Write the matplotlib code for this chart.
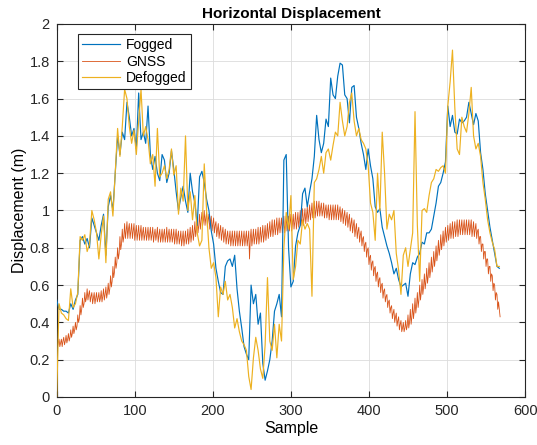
import numpy as np
import matplotlib
matplotlib.use("Agg")
import matplotlib.pyplot as plt
from matplotlib.ticker import FuncFormatter

# Horizontal displacement per sample (m); Fogged/Defogged logged every 3rd sample
fogged = [
    0.52, 0.47, 0.47, 0.46, 0.46, 0.45, 0.50, 0.47, 0.52, 0.55,
    0.84, 0.86, 0.82, 0.85, 0.80, 0.96, 0.92, 0.88, 0.84, 0.92,
    0.98, 0.76, 1.02, 1.08, 1.00, 1.20, 1.40, 1.30, 1.42, 1.38,
    1.58, 1.50, 1.40, 1.44, 1.33, 1.63, 1.38, 1.42, 1.36, 1.56,
    1.30, 1.22, 1.29, 1.20, 1.16, 1.30, 1.27, 1.15, 1.20, 1.32,
    1.22, 1.10, 1.00, 1.07, 1.13, 1.05, 0.99, 1.20, 1.10, 1.04,
    0.92, 1.18, 1.21, 1.15, 1.06, 1.00, 0.89, 0.82, 0.69, 0.62,
    0.56, 0.55, 0.70, 0.73, 0.74, 0.70, 0.76, 0.58, 0.46, 0.37,
    0.27, 0.23, 0.20, 0.60, 0.50, 0.55, 0.39, 0.45, 0.18, 0.09,
    0.14, 0.20, 0.30, 0.46, 0.50, 0.55, 0.43, 1.27, 1.30, 0.80,
    0.59, 0.62, 0.81, 0.88, 0.92, 1.09, 1.12, 1.02, 1.10, 1.17,
    1.29, 1.51, 1.38, 1.31, 1.36, 1.49, 1.45, 1.71, 1.62, 1.60,
    1.72, 1.79, 1.78, 1.62, 1.60, 1.47, 1.66, 1.67, 1.50, 1.44,
    1.36, 1.30, 1.22, 1.33, 1.24, 1.17, 1.02, 0.99, 1.01, 0.91,
    0.86, 0.81, 0.77, 0.72, 0.66, 0.69, 0.63, 0.59, 0.60, 0.61,
    0.54, 0.66, 0.72, 0.71, 0.75, 0.77, 0.83, 0.82, 0.88, 0.88,
    0.90, 0.97, 1.04, 1.13, 1.15, 1.20, 1.26, 1.56, 1.45, 1.51,
    1.42, 1.41, 1.49, 1.47, 1.48, 1.50, 1.58, 1.52, 1.46, 1.52,
    1.48, 1.31, 1.22, 1.09, 1.00, 0.91, 0.84, 0.77, 0.70, 0.69,
]

defogged = [
    0.00, 0.50, 0.45, 0.44, 0.42, 0.41, 0.58, 0.48, 0.50, 0.56,
    0.86, 0.84, 0.87, 0.78, 0.82, 1.00, 0.95, 0.88, 0.74, 0.87,
    0.97, 0.72, 1.06, 1.10, 0.97, 1.20, 1.44, 1.29, 1.45, 1.65,
    1.60, 1.45, 1.36, 1.43, 1.30, 1.48, 1.65, 1.40, 1.45, 1.38,
    1.25, 1.30, 1.13, 1.44, 1.18, 1.20, 1.24, 1.17, 1.22, 1.33,
    1.19, 1.24, 0.98, 1.12, 1.05, 1.40, 1.00, 1.10, 0.95, 1.08,
    0.88, 0.81, 0.84, 1.25, 1.00, 0.80, 0.69, 0.72, 0.64, 0.43,
    0.59, 0.55, 0.62, 0.52, 0.55, 0.48, 0.37, 0.42, 0.35, 0.30,
    0.28, 0.25, 0.11, 0.04, 0.21, 0.32, 0.25, 0.15, 0.10, 0.28,
    0.64, 0.30, 0.25, 0.39, 0.21, 0.39, 0.30, 0.80, 0.99, 0.90,
    1.08, 0.63, 0.70, 0.84, 0.82, 0.95, 0.90, 0.93, 0.90, 0.54,
    1.15, 1.17, 1.22, 1.29, 1.20, 1.31, 1.33, 1.27, 1.35, 1.42,
    1.40, 1.58, 1.48, 1.40, 1.45, 1.58, 1.63, 1.48, 1.40, 1.44,
    1.38, 1.36, 1.33, 1.24, 1.04, 0.99, 0.84, 1.20, 1.00, 1.42,
    1.20, 0.90, 0.98, 0.95, 1.00, 0.77, 0.68, 0.55, 0.76, 0.80,
    0.70, 0.79, 0.88, 1.53, 0.92, 0.62, 1.00, 1.01, 0.99, 1.08,
    1.15, 1.17, 1.22, 1.21, 1.23, 1.24, 1.20, 1.56, 1.69, 1.86,
    1.55, 1.33, 1.30, 1.50, 1.45, 1.42, 1.52, 1.66, 1.40, 1.33,
    1.36, 1.29, 1.15, 1.06, 0.95, 0.88, 0.83, 0.79, 0.70, 0.70,
]

# GNSS reference, one value per sample
gnss = [
    0.31, 0.27, 0.29, 0.31, 0.27, 0.29, 0.31, 0.27, 0.30, 0.32, 0.28, 0.30, 0.33, 0.29, 0.31,
    0.34, 0.30, 0.32, 0.36, 0.32, 0.34, 0.38, 0.34, 0.36, 0.40, 0.36, 0.38, 0.44, 0.40, 0.42,
    0.49, 0.44, 0.47, 0.53, 0.48, 0.50, 0.56, 0.51, 0.53, 0.58, 0.52, 0.55, 0.57, 0.51, 0.54,
    0.56, 0.50, 0.53, 0.56, 0.50, 0.53, 0.56, 0.51, 0.53, 0.56, 0.51, 0.53, 0.57, 0.51, 0.54,
    0.58, 0.52, 0.55, 0.59, 0.53, 0.56, 0.61, 0.55, 0.58, 0.65, 0.59, 0.62, 0.70, 0.64, 0.67,
    0.75, 0.69, 0.72, 0.80, 0.74, 0.77, 0.86, 0.79, 0.82, 0.90, 0.83, 0.86, 0.93, 0.85, 0.89,
    0.94, 0.85, 0.90, 0.93, 0.85, 0.89, 0.93, 0.85, 0.89, 0.93, 0.84, 0.88, 0.92, 0.84, 0.88,
    0.92, 0.84, 0.88, 0.92, 0.84, 0.88, 0.91, 0.84, 0.87, 0.91, 0.84, 0.87, 0.91, 0.84, 0.87,
    0.91, 0.84, 0.87, 0.91, 0.83, 0.87, 0.90, 0.84, 0.87, 0.91, 0.83, 0.87, 0.90, 0.83, 0.86,
    0.90, 0.83, 0.87, 0.90, 0.83, 0.86, 0.91, 0.83, 0.87, 0.90, 0.83, 0.86, 0.90, 0.83, 0.86,
    0.90, 0.82, 0.86, 0.90, 0.82, 0.86, 0.89, 0.82, 0.85, 0.89, 0.81, 0.85, 0.89, 0.81, 0.85,
    0.89, 0.82, 0.85, 0.90, 0.82, 0.86, 0.91, 0.83, 0.87, 0.92, 0.84, 0.88, 0.94, 0.86, 0.90,
    0.96, 0.88, 0.92, 0.98, 0.90, 0.94, 0.99, 0.92, 0.95, 1.00, 0.92, 0.96, 0.99, 0.91, 0.95,
    0.98, 0.90, 0.94, 0.97, 0.89, 0.93, 0.96, 0.88, 0.92, 0.94, 0.86, 0.90, 0.93, 0.85, 0.89,
    0.92, 0.84, 0.88, 0.91, 0.83, 0.87, 0.90, 0.82, 0.86, 0.89, 0.82, 0.85, 0.89, 0.81, 0.85,
    0.89, 0.81, 0.85, 0.89, 0.81, 0.85, 0.89, 0.81, 0.85, 0.89, 0.81, 0.85, 0.89, 0.81, 0.85,
    0.89, 0.81, 0.85, 0.89, 0.81, 0.85, 0.89, 0.74, 0.85, 0.90, 0.81, 0.85, 0.90, 0.82, 0.86,
    0.90, 0.82, 0.86, 0.91, 0.82, 0.86, 0.91, 0.83, 0.87, 0.92, 0.83, 0.87, 0.92, 0.84, 0.88,
    0.93, 0.85, 0.89, 0.94, 0.86, 0.90, 0.95, 0.86, 0.90, 0.95, 0.87, 0.91, 0.96, 0.87, 0.91,
    0.96, 0.88, 0.92, 0.96, 0.88, 0.92, 0.97, 0.88, 0.92, 0.97, 0.89, 0.93, 0.97, 0.89, 0.93,
    0.98, 0.89, 0.93, 0.98, 0.90, 0.94, 0.99, 0.90, 0.94, 0.99, 0.91, 0.95, 1.00, 0.92, 0.96,
    1.01, 0.92, 0.96, 1.01, 0.93, 0.97, 1.02, 0.94, 0.98, 1.03, 0.95, 0.99, 1.04, 0.96, 1.00,
    1.05, 0.96, 1.00, 1.05, 0.97, 1.01, 1.05, 0.97, 1.01, 1.04, 0.97, 1.00, 1.04, 0.96, 1.00,
    1.03, 0.96, 0.99, 1.03, 0.95, 0.99, 1.03, 0.95, 0.99, 1.03, 0.95, 0.99, 1.03, 0.95, 0.99,
    1.03, 0.95, 0.99, 1.02, 0.94, 0.98, 1.01, 0.93, 0.97, 1.00, 0.92, 0.96, 0.99, 0.91, 0.95,
    0.98, 0.89, 0.93, 0.96, 0.88, 0.92, 0.95, 0.86, 0.90, 0.93, 0.85, 0.89, 0.91, 0.83, 0.87,
    0.89, 0.81, 0.85, 0.86, 0.78, 0.82, 0.83, 0.75, 0.79, 0.80, 0.71, 0.75, 0.76, 0.68, 0.72,
    0.73, 0.65, 0.69, 0.70, 0.62, 0.66, 0.67, 0.59, 0.63, 0.64, 0.56, 0.60, 0.61, 0.53, 0.57,
    0.58, 0.51, 0.54, 0.55, 0.48, 0.51, 0.52, 0.45, 0.48, 0.49, 0.42, 0.45, 0.47, 0.40, 0.43,
    0.45, 0.38, 0.41, 0.43, 0.36, 0.39, 0.41, 0.35, 0.37, 0.40, 0.35, 0.37, 0.41, 0.36, 0.38,
    0.44, 0.37, 0.40, 0.47, 0.39, 0.43, 0.50, 0.42, 0.46, 0.53, 0.45, 0.49, 0.56, 0.48, 0.52,
    0.60, 0.52, 0.56, 0.63, 0.55, 0.59, 0.66, 0.58, 0.62, 0.69, 0.61, 0.65, 0.72, 0.64, 0.68,
    0.75, 0.67, 0.71, 0.78, 0.70, 0.74, 0.81, 0.73, 0.77, 0.84, 0.76, 0.80, 0.87, 0.79, 0.83,
    0.89, 0.81, 0.85, 0.91, 0.83, 0.87, 0.92, 0.84, 0.88, 0.93, 0.85, 0.89, 0.94, 0.85, 0.90,
    0.94, 0.86, 0.90, 0.95, 0.86, 0.90, 0.95, 0.87, 0.91, 0.95, 0.87, 0.91, 0.95, 0.87, 0.91,
    0.95, 0.87, 0.91, 0.95, 0.87, 0.91, 0.95, 0.86, 0.90, 0.94, 0.86, 0.90, 0.93, 0.85, 0.89,
    0.90, 0.82, 0.86, 0.86, 0.78, 0.82, 0.82, 0.74, 0.78, 0.78, 0.70, 0.74, 0.74, 0.66, 0.70,
    0.70, 0.62, 0.66, 0.65, 0.57, 0.61, 0.60, 0.52, 0.56, 0.55, 0.47, 0.51, 0.47, 0.43,
]

title = "Horizontal Displacement"
x_label = "Sample"
y_label = "Displacement (m)"
series_names = ["Fogged", "GNSS", "Defogged"]
x_ticks = [0, 100, 200, 300, 400, 500, 600]
y_ticks = [0, 0.2, 0.4, 0.6, 0.8, 1.0, 1.2, 1.4, 1.6, 1.8, 2.0]

step = 3
x_fog = np.arange(len(fogged)) * step
x_def = np.arange(len(defogged)) * step
x_gnss = np.arange(len(gnss))

plt.rcParams["font.family"] = ["Liberation Sans", "DejaVu Sans"]

fig = plt.figure(figsize=(5.37, 4.45), dpi=100)
ax = fig.add_axes([0.1056, 0.1079, 0.8722, 0.8382])

ax.plot(x_fog, fogged, color="#0072BD", lw=0.85, label=series_names[0], zorder=3)
ax.plot(x_gnss, gnss, color="#D95319", lw=0.6, label=series_names[1], zorder=2)
ax.plot(x_def, defogged, color="#EDB120", lw=0.85, label=series_names[2], zorder=4)

ax.set_xlim(0, 600)
ax.set_ylim(0, 2)
ax.set_xticks(x_ticks)
ax.set_yticks(y_ticks)
ax.yaxis.set_major_formatter(FuncFormatter(lambda v, p: f"{v:g}"))

edge = "#262626"
for sp in ax.spines.values():
    sp.set_color(edge)
    sp.set_linewidth(0.8)
ax.tick_params(direction="in", length=4, width=0.8, colors=edge,
               labelsize=10.5, top=True, right=True, pad=5)
ax.grid(True, color="#dcdcdc", lw=0.6)
ax.set_axisbelow(True)

ax.set_title(title, fontsize=11, fontweight="bold", pad=4)
ax.set_xlabel(x_label, fontsize=11.5, labelpad=2)
ax.set_ylabel(y_label, fontsize=11.5, labelpad=2)

leg = ax.legend(loc="upper left", bbox_to_anchor=(0.0455, 0.973),
                borderaxespad=0, fontsize=10, handlelength=2.7,
                handletextpad=0.45, labelspacing=0.18, borderpad=0.3,
                fancybox=False, framealpha=1)
leg.get_frame().set_edgecolor(edge)
leg.get_frame().set_linewidth(0.8)

fig.savefig("out.png", dpi=100)
